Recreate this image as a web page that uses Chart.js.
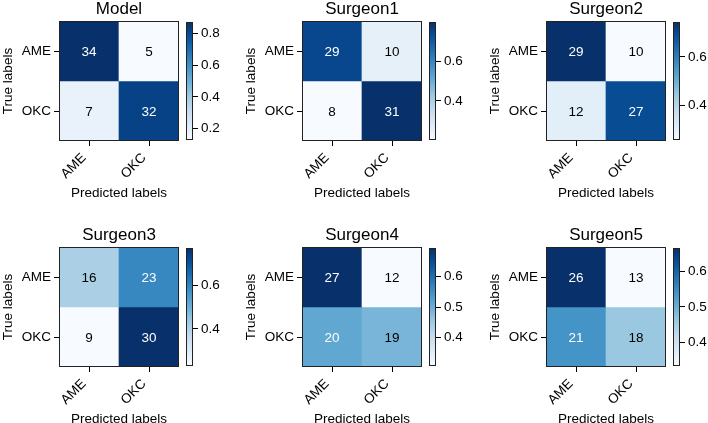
<!DOCTYPE html>
<html>
<head>
<meta charset="utf-8">
<script src="https://cdn.jsdelivr.net/npm/chart.js@4.4.1/dist/chart.umd.min.js"></script>
<style>
	html, body { margin: 0; padding: 0; background: #fff; }
	#wrap { position: relative; width: 708px; height: 423px; overflow: hidden; }
	#wrap canvas { position: absolute; }
</style>
</head>
<body>
<div id="wrap"></div>
<script>
(function () {
	'use strict';

	// classes, rows = true label, columns = predicted label
	var classLabels = ['AME', 'OKC'];
	var panelTitles = ['Model', 'Surgeon1', 'Surgeon2', 'Surgeon3', 'Surgeon4', 'Surgeon5'];
	var modelCounts = [[34, 5], [7, 32]];
	var surgeon1Counts = [[29, 10], [8, 31]];
	var surgeon2Counts = [[29, 10], [12, 27]];
	var surgeon3Counts = [[16, 23], [9, 30]];
	var surgeon4Counts = [[27, 12], [20, 19]];
	var surgeon5Counts = [[26, 13], [21, 18]];
	var colorbarSteps = [0.2, 0.2, 0.2, 0.2, 0.1, 0.1];

	var allCounts = [modelCounts, surgeon1Counts, surgeon2Counts, surgeon3Counts, surgeon4Counts, surgeon5Counts];

	// layout (px)
	var boxLefts = [59, 302, 546];
	var boxTops = [21, 247];
	var BOX = 120;
	var SIDE = 59;
	var FONT = '"Liberation Sans", Arial, sans-serif';

	var BLUES = ['#f7fbff', '#deebf7', '#c6dbef', '#9ecae1', '#6baed6', '#4292c6', '#2171b5', '#08519c', '#08306b'];

	Chart.defaults.color = '#000';
	Chart.defaults.font.family = FONT;
	Chart.defaults.font.size = 13.5;

	function hexToRgb(h) {
		return [parseInt(h.substr(1, 2), 16), parseInt(h.substr(3, 2), 16), parseInt(h.substr(5, 2), 16)];
	}

	function blues(t) {
		t = Math.max(0, Math.min(1, t));
		var pos = t * (BLUES.length - 1);
		var i = Math.min(Math.floor(pos), BLUES.length - 2);
		var f = pos - i;
		var a = hexToRgb(BLUES[i]);
		var b = hexToRgb(BLUES[i + 1]);
		var rgb = a.map(function (v, k) { return Math.round(v + (b[k] - v) * f); });
		return 'rgb(' + rgb.join(',') + ')';
	}

	var framePlugin = {
		id: 'frame',
		afterDatasetsDraw: function (chart) {
			var a = chart.chartArea;
			var ctx = chart.ctx;
			ctx.save();
			ctx.strokeStyle = '#222';
			ctx.lineWidth = 1;
			ctx.strokeRect(Math.round(a.left) + 0.5, Math.round(a.top) + 0.5,
				Math.round(a.right - a.left) - 1, Math.round(a.bottom - a.top) - 1);
			ctx.restore();
		}
	};

	var cellTextPlugin = {
		id: 'cellText',
		afterDatasetsDraw: function (chart) {
			var ctx = chart.ctx;
			ctx.save();
			ctx.font = '13.5px ' + FONT;
			ctx.textAlign = 'center';
			ctx.textBaseline = 'middle';
			chart.data.datasets.forEach(function (ds, r) {
				chart.getDatasetMeta(r).data.forEach(function (bar, c) {
					var p = bar.getCenterPoint();
					ctx.fillStyle = ds.textColors[c];
					ctx.fillText(String(ds.counts[c]), p.x, p.y + 1);
				});
			});
			ctx.restore();
		}
	};

	var wrap = document.getElementById('wrap');

	function makeCanvas(left, top, w, h) {
		var cv = document.createElement('canvas');
		cv.width = w;
		cv.height = h;
		cv.style.left = left + 'px';
		cv.style.top = top + 'px';
		cv.style.width = w + 'px';
		cv.style.height = h + 'px';
		wrap.appendChild(cv);
		return cv;
	}

	allCounts.forEach(function (counts, p) {
		var boxLeft = boxLefts[p % 3];
		var boxTop = boxTops[Math.floor(p / 3)];

		var norm = counts.map(function (row) {
			var sum = row.reduce(function (s, v) { return s + v; }, 0);
			return row.map(function (v) { return v / sum; });
		});
		var flat = [].concat.apply([], norm);
		var vmin = Math.min.apply(null, flat);
		var vmax = Math.max.apply(null, flat);
		var mid = (vmin + vmax) / 2;

		var datasets = counts.map(function (row, r) {
			return {
				label: classLabels[r],
				data: row.map(function () { return 1; }),
				counts: row,
				backgroundColor: norm[r].map(function (v) { return blues((v - vmin) / (vmax - vmin)); }),
				textColors: norm[r].map(function (v) { return v > mid ? '#fff' : '#000'; }),
				borderWidth: 0,
				barPercentage: 1,
				categoryPercentage: 1
			};
		});

		var hmCanvas = makeCanvas(boxLeft - SIDE, boxTop - 21, SIDE + BOX + SIDE, 21 + BOX + 62);
		new Chart(hmCanvas, {
			type: 'bar',
			data: { labels: classLabels, datasets: datasets },
			options: {
				responsive: false,
				animation: false,
				layout: { padding: 0 },
				plugins: {
					legend: { display: false },
					tooltip: { enabled: false },
					title: {
						display: true,
						text: panelTitles[p],
						color: '#000',
						font: { size: 17, weight: 'normal', lineHeight: 1 },
						padding: { top: 0.5, bottom: 3.5 }
					}
				},
				scales: {
					x: {
						stacked: true,
						grid: { drawOnChartArea: false, offset: false, tickLength: 5, color: '#000' },
						border: { display: false },
						ticks: { minRotation: 45, maxRotation: 45, padding: 4, labelOffset: -5 },
						title: { display: true, text: 'Predicted labels', padding: { top: 0, bottom: 2 } },
						afterFit: function (scale) { scale.height = 62; }
					},
					y: {
						stacked: true,
						reverse: true,
						min: 0,
						max: classLabels.length,
						grid: { drawOnChartArea: false, tickLength: 5, color: '#000' },
						border: { display: false },
						ticks: {
							padding: 3,
							callback: function (value, index) { return classLabels[index]; }
						},
						afterBuildTicks: function (scale) {
							scale.ticks = classLabels.map(function (l, i) { return { value: i + 0.5 }; });
						},
						title: { display: true, text: 'True labels', padding: { top: 0, bottom: 0 } },
						afterFit: function (scale) { scale.width = SIDE; }
					},
					// empty right gutter so the panel title centres over the matrix
					gutter: {
						type: 'linear',
						position: 'right',
						grid: { display: false },
						ticks: { display: false },
						border: { display: false },
						afterFit: function (scale) { scale.width = SIDE; }
					}
				}
			},
			plugins: [framePlugin, cellTextPlugin]
		});

		// colorbar
		var step = colorbarSteps[p];
		var cbCanvas = makeCanvas(boxLeft + 127, boxTop - 10, 7 + 30, BOX + 20);
		new Chart(cbCanvas, {
			type: 'bar',
			data: {
				labels: [''],
				datasets: [{
					data: [[vmin, vmax]],
					borderWidth: 0,
					barPercentage: 1,
					categoryPercentage: 1,
					backgroundColor: function (c) {
						var a = c.chart.chartArea;
						if (!a) {
							return BLUES[4];
						}
						var g = c.chart.ctx.createLinearGradient(0, a.bottom, 0, a.top);
						BLUES.forEach(function (col, i) { g.addColorStop(i / (BLUES.length - 1), col); });
						return g;
					}
				}]
			},
			options: {
				responsive: false,
				animation: false,
				layout: { padding: { top: 10, bottom: 10, left: 0, right: 0 } },
				plugins: { legend: { display: false }, tooltip: { enabled: false } },
				scales: {
					x: { display: false },
					y: {
						position: 'right',
						min: vmin,
						max: vmax,
						grid: { drawOnChartArea: false, tickLength: 5, color: '#000' },
						border: { display: false },
						ticks: {
							padding: 3,
							callback: function (value) { return value.toFixed(1); }
						},
						afterBuildTicks: function (scale) {
							var ticks = [];
							for (var v = Math.ceil(vmin / step - 1e-9) * step; v <= vmax + 1e-9; v += step) {
								ticks.push({ value: Math.round(v * 10) / 10 });
							}
							scale.ticks = ticks;
						},
						afterFit: function (scale) { scale.width = 30; }
					}
				}
			},
			plugins: [framePlugin]
		});
	});
})();
</script>
</body>
</html>
